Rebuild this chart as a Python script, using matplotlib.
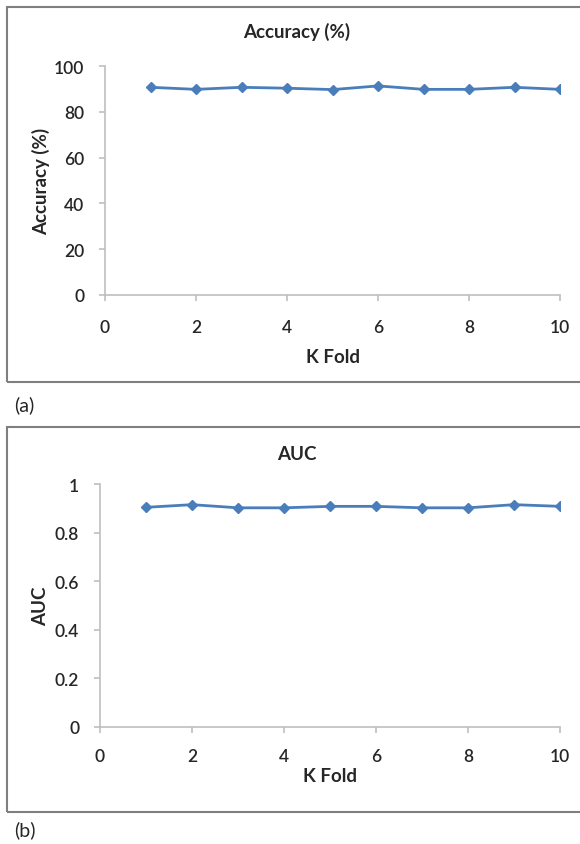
import matplotlib
matplotlib.use("Agg")
import matplotlib.pyplot as plt
from matplotlib.patches import Rectangle

# K-fold results
folds = [1, 2, 3, 4, 5, 6, 7, 8, 9, 10]
accuracy = [90.7, 89.8, 90.7, 90.3, 89.7, 91.3, 89.8, 89.8, 90.7, 89.8]
auc = [0.904, 0.915, 0.902, 0.902, 0.908, 0.908, 0.902, 0.902, 0.915, 0.908]

acc_ticks = [0, 20, 40, 60, 80, 100]
auc_ticks = [0, 0.2, 0.4, 0.6, 0.8, 1]
auc_ticklabels = ["0", "0.2", "0.4", "0.6", "0.8", "1"]
x_ticks = [0, 2, 4, 6, 8, 10]

LINE = "#4A7EBB"
AXIS = "#BFBFBF"
TEXT = "#262626"
W, H = 580, 845

plt.rcParams["font.family"] = ["Lato", "DejaVu Sans"]

fig = plt.figure(figsize=(W / 100, H / 100), dpi=100)


def px_box(x0, y0, x1, y1):
    """pixel coords (top-left origin) -> figure rect"""
    return [x0 / W, 1 - y1 / H, (x1 - x0) / W, (y1 - y0) / H]


def style(ax, xpad, ypad):
    for side in ("top", "right"):
        ax.spines[side].set_visible(False)
    for side in ("left", "bottom"):
        ax.spines[side].set_color(AXIS)
        ax.spines[side].set_linewidth(1.2)
    ax.tick_params(colors=AXIS, labelcolor=TEXT, labelsize=12.5,
                   length=4, width=1.2, direction="out")
    ax.tick_params(axis="x", pad=xpad)
    ax.tick_params(axis="y", pad=ypad)
    for lab in ax.get_xticklabels() + ax.get_yticklabels():
        lab.set_fontweight("semibold")


# outer panel frames
for y0, y1 in [(8, 383), (428, 813)]:
    x0, yb, w, h = px_box(7, y0, 600, y1)
    fig.patches.append(Rectangle((x0, yb), w, h, transform=fig.transFigure,
                                 fill=False, edgecolor="#7F7F7F", linewidth=1.5))

# (a) accuracy
ax1 = fig.add_axes(px_box(105, 67, 560, 296))
ax1.plot(folds, accuracy, color=LINE, linewidth=2, marker="D", markersize=5)
ax1.set_xlim(0, 10)
ax1.set_ylim(0, 100)
ax1.set_xticks(x_ticks)
ax1.set_yticks(acc_ticks)
style(ax1, 13, 11)
ax1.set_xlabel("K Fold", fontsize=13.5, fontweight="bold", color=TEXT, labelpad=10)
ax1.set_ylabel("Accuracy (%)", fontsize=13.5, fontweight="bold", color=TEXT, labelpad=3)
fig.text(297 / W, 1 - 32 / H, "Accuracy (%)", ha="center", va="center",
         fontsize=13.5, fontweight="bold", color=TEXT)

# (b) AUC
ax2 = fig.add_axes(px_box(100, 485, 560, 728))
ax2.plot(folds, auc, color=LINE, linewidth=2, marker="D", markersize=5)
ax2.set_xlim(0, 10)
ax2.set_ylim(0, 1)
ax2.set_xticks(x_ticks)
ax2.set_yticks(auc_ticks)
ax2.set_yticklabels(auc_ticklabels)
style(ax2, 11, 11)
ax2.set_xlabel("K Fold", fontsize=13.5, fontweight="bold", color=TEXT, labelpad=2)
ax2.set_ylabel("AUC", fontsize=13.5, fontweight="bold", color=TEXT, labelpad=4)
fig.text(297 / W, 1 - 455 / H, "AUC", ha="center", va="center",
         fontsize=13.5, fontweight="bold", color=TEXT)

fig.text(14 / W, 1 - 405 / H, "(a)", ha="left", va="center", fontsize=14, color=TEXT)
fig.text(14 / W, 1 - 830 / H, "(b)", ha="left", va="center", fontsize=14, color=TEXT)

fig.savefig("out.png", dpi=100)
